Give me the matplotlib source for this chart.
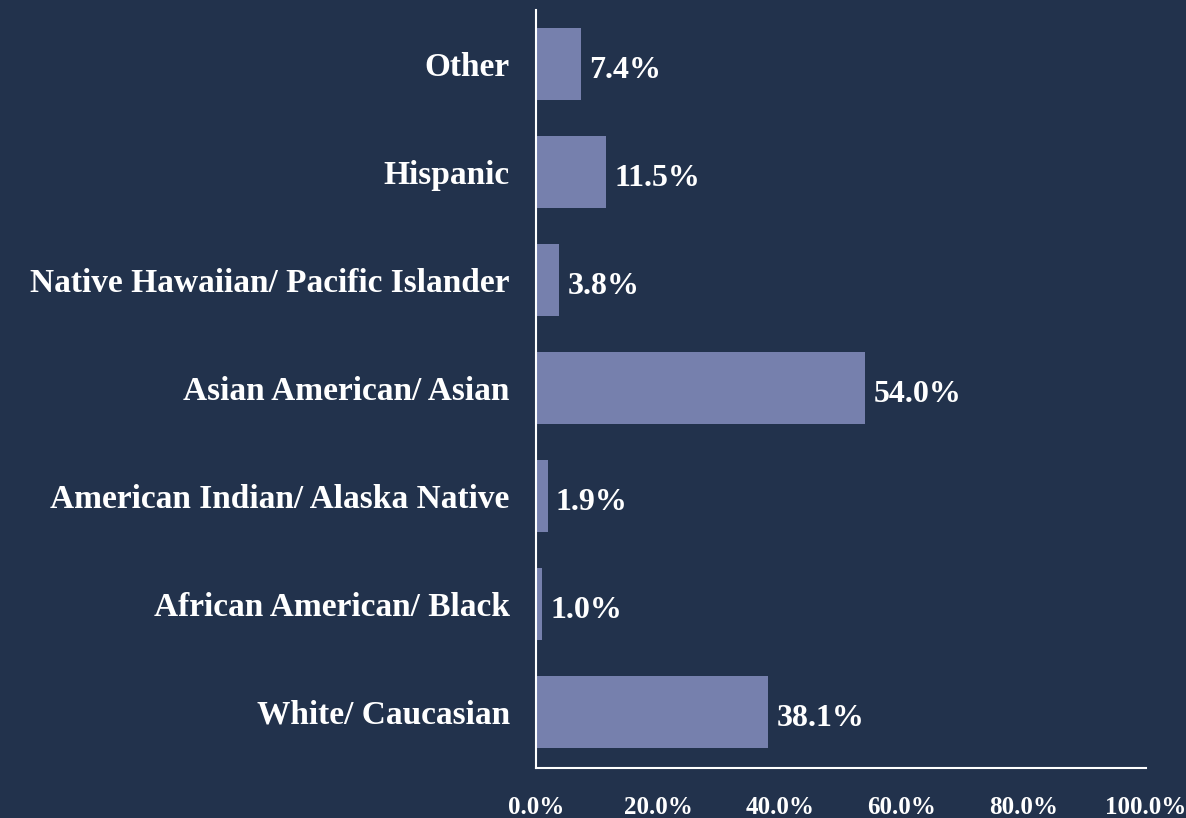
import matplotlib.pyplot as plt

categories = ['White/ Caucasian', 'African American/ Black', 'American Indian/ Alaska Native',
              'Asian American/ Asian', 'Native Hawaiian/ Pacific Islander', 'Hispanic', 'Other']
values = [38.1, 1.0, 1.9, 54.0, 3.8, 11.5, 7.4]
xticks = [0, 20, 40, 60, 80, 100]

bg = '#22324c'
bar_color = '#7680ad'

fig = plt.figure(figsize=(11.86, 8.18), dpi=100, facecolor=bg)
ax = fig.add_axes([0.452, 0.0611, 0.5143, 0.9267], facecolor=bg)

ax.barh(range(len(categories)), values, height=0.667, color=bar_color)

for i, v in enumerate(values):
    ax.annotate(f'{v:.1f}%', (v, i), xytext=(8, -7), textcoords='offset pixels',
                va='center', ha='left', color='white', fontsize=23,
                fontweight='bold', family='Liberation Serif')

ax.set_xlim(0, 100)
ax.set_ylim(-0.52, 6.5)
ax.set_yticks(range(len(categories)))
ax.set_yticklabels(categories, fontsize=24, fontweight='bold', family='Liberation Serif', color='white')
ax.set_xticks(xticks)
ax.set_xticklabels([f'{t:.1f}%' for t in xticks], fontsize=18, fontweight='bold',
                   family='Liberation Serif', color='white')
ax.tick_params(axis='y', length=0, pad=19)
ax.tick_params(axis='x', length=0, pad=20)

for s in ['top', 'right']:
    ax.spines[s].set_visible(False)
for s in ['left', 'bottom']:
    ax.spines[s].set_color('white')
    ax.spines[s].set_linewidth(1.5)

fig.savefig('out.png', dpi=100, facecolor=bg)
